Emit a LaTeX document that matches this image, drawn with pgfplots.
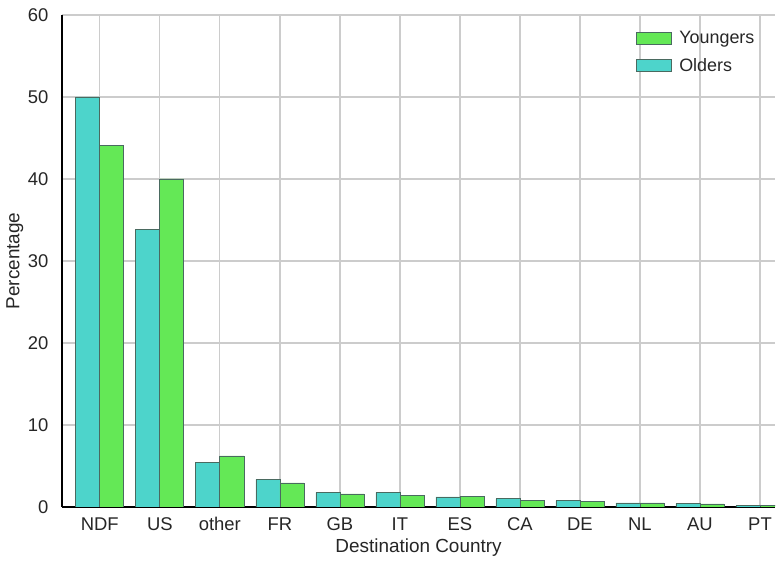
\documentclass[border=0pt]{standalone}
\usepackage{pgfplots}
\pgfplotsset{compat=1.18}
\usepackage{fontspec}
\setmainfont{Liberation Sans}
\definecolor{older}{HTML}{4DD4CB}
\definecolor{younger}{HTML}{64E856}
\definecolor{gridc}{HTML}{CCCCCC}
\definecolor{edgec}{HTML}{4A6A60}
\definecolor{txt}{HTML}{262626}
\begin{document}
\begin{tikzpicture}
\pgfplotstableread{
x older younger
0 50.0 44.1
1 33.9 40.0
2 5.45 6.22
3 3.38 2.93
4 1.79 1.59
5 1.79 1.46
6 1.22 1.34
7 1.00 0.85
8 0.77 0.73
9 0.49 0.49
10 0.40 0.37
11 0.16 0.20
}\data
\begin{axis}[
  scale only axis,
  width=713bp, height=492bp,
  xmin=-0.63, xmax=11.25,
  ymin=0, ymax=60,
  ytick={0,10,...,60},
  xtick={0,...,11},
  xticklabels={NDF,US,other,FR,GB,IT,ES,CA,DE,NL,AU,PT},
  grid=major,
  major grid style={draw=gridc, line width=1.3bp},
  axis x line*=bottom, axis y line*=left,
  axis line style={-, black, line width=1.2bp},
  major tick length=0pt,
  tick label style={font=\fontsize{18.5}{22}\selectfont, text=txt},
  /pgf/number format/assume math mode=true,
  xticklabel style={anchor=center, yshift=-17bp},
  yticklabel style={anchor=east, xshift=-10bp},
  xlabel={Destination Country},
  ylabel={Percentage},
  label style={font=\fontsize{19}{22}\selectfont, text=txt},
  xlabel style={at={(axis description cs:0.5,0)}, anchor=center, yshift=-41bp},
  ylabel style={at={(axis description cs:-0.066,0.5)}, anchor=center, rotate=0},
  legend style={draw=none, fill=none, anchor=north west,
    font=\fontsize{18}{21}\selectfont, row sep=9bp, text=txt,
    at={(axis description cs:0.800,0.975)},
    /tikz/every odd column/.append style={column sep=6bp}},
  legend cell align=left,
  reverse legend,
  legend image code/.code={\draw[#1] (0bp,-6bp) rectangle (35bp,6bp);},
]
\addplot[ybar, bar width=0.4, bar shift=-0.2, fill=older, draw=edgec, line width=0.7bp] table[x=x,y=older]{\data};
\addlegendentry{Olders}
\addplot[ybar, bar width=0.4, bar shift=0.2, fill=younger, draw=edgec, line width=0.7bp] table[x=x,y=younger]{\data};
\addlegendentry{Youngers}
\end{axis}
\pgfresetboundingbox
\path (-62bp,-59bp) rectangle (720bp,507bp);
\end{tikzpicture}
\end{document}
